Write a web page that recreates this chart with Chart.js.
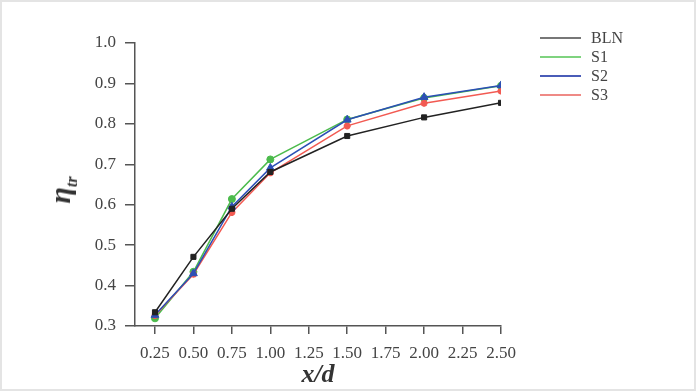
<!DOCTYPE html>
<html>
<head>
<meta charset="utf-8">
<script src="https://cdn.jsdelivr.net/npm/chart.js@4.4.1/dist/chart.umd.min.js"></script>
<style>
  html, body { margin: 0; padding: 0; background: #fff; }
  #wrap { position: relative; width: 696px; height: 391px; overflow: hidden; }
  #frame { position: absolute; left: 0; top: 0; width: 696px; height: 391px; box-sizing: border-box;
           border: 2px solid #e4e4e4; pointer-events: none; }
  #ytitle { position: absolute; left: 62px; top: 190px; transform: translate(-50%, -50%) rotate(-90deg);
            font-family: "Liberation Serif", serif; font-style: italic; font-weight: bold; font-size: 30px;
            color: #333; white-space: nowrap; }
  #ytitle sub { font-size: 16px; }
  #legend { position: absolute; left: 540px; top: 28px; font-family: "Liberation Serif", serif;
            font-size: 16px; color: #444; }
  .item { height: 19px; display: flex; align-items: center; }
  .swatch { width: 41px; height: 2px; margin-right: 10px; }
</style>
</head>
<body>
<div id="wrap">
  <canvas id="chart" width="696" height="391"></canvas>
  <div id="ytitle">η<sub>tr</sub></div>
  <div id="legend"></div>
  <div id="frame"></div>
</div>
<script>
const xValues = [0.25, 0.50, 0.75, 1.00, 1.50, 2.00, 2.50];
const xTicks = [0.25, 0.50, 0.75, 1.00, 1.25, 1.50, 1.75, 2.00, 2.25, 2.50];
const yTicks = [0.3, 0.4, 0.5, 0.6, 0.7, 0.8, 0.9, 1.0];

const seriesNames = ['BLN', 'S1', 'S2', 'S3'];
const blnValues = [0.334, 0.471, 0.590, 0.681, 0.770, 0.816, 0.852];
const s1Values = [0.319, 0.434, 0.614, 0.712, 0.811, 0.864, 0.894];
const s2Values = [0.327, 0.430, 0.595, 0.691, 0.810, 0.866, 0.895];
const s3Values = [0.326, 0.428, 0.581, 0.679, 0.795, 0.851, 0.881];

const lineColors = ['#222222', '#4cbb4c', '#2c4fb5', '#f25a52'];
const legendColors = ['#777777', '#7fd37f', '#4a5cb8', '#ef8a86'];
const markers = ['rect', 'circle', 'triangle', 'star'];
const markerSizes = [3.6, 3.5, 4.5, 3.5];

function toPoints(values) {
  return values.map((v, i) => ({ x: xValues[i], y: v }));
}

const allValues = [blnValues, s1Values, s2Values, s3Values];
const drawOrder = [1, 4, 2, 3];

const datasets = seriesNames.map((name, i) => ({
  label: name,
  data: toPoints(allValues[i]),
  borderColor: lineColors[i],
  backgroundColor: lineColors[i],
  borderWidth: 1.5,
  pointStyle: markers[i],
  pointRadius: markerSizes[i],
  pointBorderWidth: markers[i] === 'star' ? 2.2 : 1,
  tension: 0,
  order: drawOrder[i]
}));

// legend as plain html text
const legendEl = document.getElementById('legend');
seriesNames.forEach((name, i) => {
  const row = document.createElement('div');
  row.className = 'item';
  row.innerHTML = '<span class="swatch" style="background:' + legendColors[i] + '"></span>' + name;
  legendEl.appendChild(row);
});

const tickFont = { family: 'Liberation Serif', size: 17 };
const axisColor = '#555555';

new Chart(document.getElementById('chart'), {
  type: 'line',
  data: { datasets: datasets },
  options: {
    responsive: false,
    animation: false,
    layout: { padding: { left: 0, top: 43, right: 195, bottom: 0 } },
    plugins: {
      legend: { display: false },
      tooltip: { enabled: false }
    },
    scales: {
      x: {
        type: 'linear',
        min: 0.12,
        max: 2.5,
        afterBuildTicks: function(scale) {
          scale.ticks = xTicks.map(v => ({ value: v }));
        },
        afterFit: function(scale) { scale.height = 65; },
        border: { color: axisColor, width: 1.5 },
        grid: { drawOnChartArea: false, drawTicks: true, tickLength: 8, color: axisColor, lineWidth: 1.5 },
        ticks: {
          autoSkip: false,
          maxRotation: 0,
          padding: 9,
          color: '#444',
          font: tickFont,
          callback: v => v.toFixed(2)
        },
        title: {
          display: true,
          text: 'x/d',
          color: '#333',
          padding: { top: 2, bottom: 0 },
          font: { family: 'Liberation Serif', size: 26, style: 'italic', weight: 'bold' }
        }
      },
      y: {
        min: 0.3,
        max: 1.0,
        afterBuildTicks: function(scale) {
          scale.ticks = yTicks.map(v => ({ value: v }));
        },
        afterFit: function(scale) { scale.width = 135; },
        border: { color: axisColor, width: 1.5 },
        grid: { drawOnChartArea: false, drawTicks: true, tickLength: 10, color: axisColor, lineWidth: 1.5 },
        ticks: {
          padding: 9,
          color: '#444',
          font: tickFont,
          callback: v => v.toFixed(1)
        }
      }
    }
  }
});
</script>
</body>
</html>
